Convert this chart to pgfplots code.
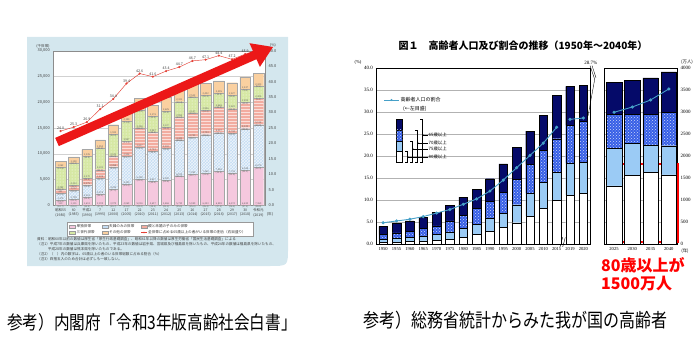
\documentclass[border=0pt]{standalone}
\usepackage{fontspec}
\setmainfont{Noto Sans CJK JP}
\newfontfamily\rserif{Liberation Serif}
\usepackage{graphicx}
\usepackage{pgfplots}
\pgfplotsset{compat=1.18}
\usepackage{pgfplotstable}
\usetikzlibrary{patterns}

\definecolor{panel}{RGB}{212,231,238}
\definecolor{cpink}{RGB}{245,200,222}
\definecolor{cblue}{RGB}{196,220,242}
\definecolor{csalmon}{RGB}{242,172,160}
\definecolor{cgreen}{RGB}{214,232,164}
\definecolor{corange}{RGB}{250,208,160}
\definecolor{cred}{RGB}{228,66,56}
\definecolor{arrowred}{RGB}{236,24,24}
\definecolor{rnavy}{RGB}{5,10,105}
\definecolor{rdot}{RGB}{55,95,230}
\definecolor{rlb}{RGB}{155,203,245}
\definecolor{rline}{RGB}{70,160,200}

\pgfplotstableread{
x dan danp fuu fuup oya oyap san sanp oth othp tot pct
0 910 10.7 1379 16.2 891 10.5 4254 50.1 1062 12.5 8495 24.0
1 1131 12.0 1795 19.1 1012 10.8 4313 45.9 1150 12.2 9400 25.3
2 1613 14.9 2314 21.4 1275 11.8 4270 39.5 1345 12.4 10816 26.9
3 2199 17.3 3075 24.2 1636 12.9 4232 33.3 1553 12.2 12695 31.1
4 3079 19.7 4234 27.1 2268 14.5 4141 26.5 1924 12.3 15647 34.4
5 4069 22.0 5420 29.2 2906 15.7 3947 21.3 2190 11.8 18532 39.4
6 5018 24.2 6190 29.9 3837 18.5 3348 16.2 2313 11.2 20705 42.6
7 4697 24.2 5817 30.0 3743 19.3 2987 15.4 2178 11.2 19422 41.6
8 4868 23.3 6190 29.6 4110 19.6 3137 15.0 2625 12.5 20930 43.4
9 5730 25.6 6974 31.1 4442 19.8 2953 13.2 2321 10.4 22420 44.7
10 5959 25.3 7242 30.7 4743 20.1 3117 13.2 2512 10.7 23572 46.7
11 6243 26.3 7469 31.5 4704 19.8 2906 12.2 2402 10.1 23724 47.1
12 6559 27.1 7526 31.1 5007 20.7 2668 11.0 2405 10.0 24165 48.4
13 6274 26.4 7731 32.5 4734 19.9 2621 11.0 2427 10.2 23787 47.2
14 6830 27.4 8045 32.3 5122 20.5 2493 10.0 2437 9.8 24927 48.9
15 7369 28.8 8270 32.3 5118 20.0 2404 9.4 2423 9.5 25584 49.4
}\hdata

\pgfplotstableread{
x w lb dt nv
0 0.4 0.7 1.1 1.9
1 0.5 0.8 1.3 2.2
2 0.7 0.9 1.4 2.35
3 0.8 1.1 1.7 2.6
4 0.95 1.25 2.0 3.1
5 1.2 1.6 2.5 3.6
6 1.6 2.0 3.0 4.1
7 2.2 2.4 3.6 4.3
8 2.9 3.1 3.8 5.1
9 3.9 3.2 4.7 6.5
10 4.9 4.1 5.8 7.2
11 6.4 5.2 6.6 7.5
12 8.2 5.9 7.3 7.9
13 10.0 6.3 7.7 9.9
14 11.2 7.2 8.7 8.8
15 11.6 7.0 9.3 8.3
}\rdata

\pgfplotstableread{
x pct
0 4.9
1 5.3
2 5.7
3 6.3
4 7.1
5 7.9
6 9.1
7 10.3
8 12.1
9 14.6
10 17.4
11 20.2
12 23.0
13 26.6
}\rlineA

\pgfplotstableread{
x pct
14 28.4
15 28.7
}\rlineB

\pgfplotstableread{
x w lb dt nv pct
0 13.3 8.5 7.8 7.2 30.0
1 15.6 7.4 6.6 7.6 31.2
2 16.3 6.3 7.0 8.2 32.8
3 15.8 6.6 7.6 9.2 35.3
}\fdata

\pgfplotsset{
  segnodes/.style 2 args={
    visualization depends on={\thisrow{#1} \as \segv},
    visualization depends on={\thisrow{#2} \as \segp},
    nodes near coords={\pgfmathprintnumber[fixed,precision=0,1000 sep={,}]{\segv}\\(\pgfmathprintnumber[fixed,fixed zerofill,precision=1]{\segp})},
    every node near coord/.append style={anchor=center, yshift={-0.0025767pt*\segv},
      font=\fontsize{2.4}{2.8}\selectfont, text=black!60, align=center, inner sep=0pt},
  },
  lbar/.style={draw=black!35, line width=0.25pt},
  rbar/.style={draw=black, line width=0.35pt},
}

\begin{document}
\begin{tikzpicture}
\path[use as bounding box] (0,0) rectangle (700pt,356pt);

% ---------- left panel background ----------
\begin{scope}[x=1pt,y=-1pt,yshift=356pt]
\fill[panel] (27,37) -- (288,37) -- (288,248) .. controls (288,266) .. (270,266) -- (27,266) -- cycle;
\end{scope}

% ---------- left chart: households ----------
\begin{axis}[
  at={(53.3pt,150.7pt)}, anchor=south west,
  scale only axis, width=211.7pt, height=154.6pt,
  xmin=-0.55, xmax=15.5, ymin=0, ymax=30000,
  ybar stacked, bar width=10.6pt,
  axis background/.style={fill=white},
  axis line style={draw=black!45, line width=0.3pt},
  ymajorgrids, grid style={draw=black!18, line width=0.3pt},
  ytick={0,5000,10000,15000,20000,25000,30000},
  scaled y ticks=false,
  /pgf/number format/assume math mode=true,
  yticklabel style={font=\fontsize{4}{4}\selectfont, text=black!75, /pgf/number format/1000 sep={,}},
  xtick={0,...,15},
  xticklabels={{昭和55\\(1980)},{60\\(1985)},{平成2\\(1990)},{7\\(1995)},{12\\(2000)},{17\\(2005)},{22\\(2010)},{23\\(2011)},{24\\(2012)},{25\\(2013)},{26\\(2014)},{27\\(2015)},{28\\(2016)},{29\\(2017)},{30\\(2018)},{令和元\\(2019)}},
  xticklabel style={font=\fontsize{3.5}{4.6}\selectfont, align=center, text=black!75},
  major tick length=0pt,
  clip=false,
]
\addplot[lbar, fill=cpink, segnodes={dan}{danp}] table[x=x,y=dan]{\hdata};
\addplot[lbar, fill=cblue, postaction={pattern=crosshatch, pattern color=white!70!cblue}, segnodes={fuu}{fuup}] table[x=x,y=fuu]{\hdata};
\addplot[lbar, fill=csalmon, postaction={pattern=horizontal lines, pattern color=white!60!csalmon}, segnodes={oya}{oyap}] table[x=x,y=oya]{\hdata};
\addplot[lbar, fill=cgreen, postaction={pattern=dots, pattern color=white}, segnodes={san}{sanp}] table[x=x,y=san]{\hdata};
\addplot[lbar, fill=corange, segnodes={oth}{othp}] table[x=x,y=oth]{\hdata};
\addplot[draw=none, fill=none,
  visualization depends on={\thisrow{tot} \as \totv},
  nodes near coords={\pgfmathprintnumber[fixed,precision=0,1000 sep={,}]{\totv}},
  every node near coord/.append style={font=\fontsize{2.8}{3}\selectfont, text=black!70, inner sep=0.6pt}]
  table[x=x,y expr=0]{\hdata};
\end{axis}

\begin{axis}[
  at={(53.3pt,150.7pt)}, anchor=south west,
  scale only axis, width=211.7pt, height=154.6pt,
  xmin=-0.55, xmax=15.5, ymin=0, ymax=50,
  axis y line*=right, axis x line=none,
  axis line style={draw=black!45, line width=0.3pt},
  ytick={0,5,...,50},
  /pgf/number format/assume math mode=true,
  yticklabel style={font=\fontsize{4}{4}\selectfont, text=black!75, /pgf/number format/.cd, fixed, fixed zerofill, precision=1},
  major tick length=0pt,
  clip=false,
]
\addplot[cred, line width=0.45pt, mark=*, mark size=0.85pt,
  point meta=y,
  nodes near coords={\pgfmathprintnumber[fixed,fixed zerofill,precision=1]{\pgfplotspointmeta}},
  every node near coord/.append style={font=\fontsize{3.6}{4}\selectfont, text=black!75, anchor=south, inner sep=1.2pt}]
  table[x=x,y=pct]{\hdata};
\end{axis}

% ---------- right chart: main panel ----------
\begin{axis}[
  at={(376.5pt,111.7pt)}, anchor=south west,
  scale only axis, width=214.2pt, height=176pt,
  xmin=-0.5, xmax=15.55, ymin=0, ymax=40,
  ybar stacked, bar width=8.6pt,
  axis line style={draw=black, line width=0.5pt},
  ymajorgrids, grid style={draw=black!30, line width=0.35pt},
  ytick={0,5,...,40},
  /pgf/number format/assume math mode=true,
  yticklabel style={font=\rserif\fontsize{5}{5}\selectfont, /pgf/number format/.cd, fixed, fixed zerofill, precision=1},
  xtick={0,...,15},
  xticklabels={1950,1955,1960,1965,1970,1975,1980,1985,1990,1995,2000,2005,2010,2015,2019,2020},
  xticklabel style={font=\rserif\fontsize{4.6}{5}\selectfont},
  major tick length=0pt,
  clip=false,
]
\addplot[rbar, fill=white] table[x=x,y=w]{\rdata};
\addplot[rbar, fill=rlb] table[x=x,y=lb]{\rdata};
\addplot[rbar, fill=rdot, postaction={pattern=crosshatch dots, pattern color=white!75!rdot}] table[x=x,y=dt]{\rdata};
\addplot[rbar, fill=rnavy] table[x=x,y=nv]{\rdata};
% axis break marks
\draw[black, line width=0.4pt] (axis cs:13.25,-0.6) -- (axis cs:13.45,1.6);
\draw[black, line width=0.4pt] (axis cs:13.45,-0.6) -- (axis cs:13.65,1.6);
% 28.7% label and leader
\node[font=\rserif\fontsize{5}{5}\selectfont, anchor=south, inner sep=0.5pt] at (axis cs:15.55,40.6) {28.7\%};
\draw[black, line width=0.35pt] (axis cs:15.5,40.6) -- (axis cs:15.85,37.5) -- (axis cs:15.35,29.2);
\draw[black, line width=0.35pt] (axis cs:15.65,40.6) -- (axis cs:15.95,37.8);
\end{axis}

\begin{axis}[
  at={(376.5pt,111.7pt)}, anchor=south west,
  scale only axis, width=214.2pt, height=176pt,
  xmin=-0.5, xmax=15.55, ymin=0, ymax=40,
  hide axis,
]
\addplot[rline, line width=0.9pt, mark=*, mark size=1.1pt] table[x=x,y=pct]{\rlineA};
\addplot[rline, line width=0.9pt, mark=*, mark size=1.1pt] table[x=x,y=pct]{\rlineB};
\end{axis}

% ---------- right chart: projection panel ----------
\begin{axis}[
  at={(604pt,111.7pt)}, anchor=south west,
  scale only axis, width=73pt, height=176pt,
  xmin=-0.55, xmax=3.45, ymin=0, ymax=40,
  ybar stacked, bar width=15.5pt,
  axis line style={draw=black, line width=0.5pt},
  ymajorgrids, grid style={draw=black!30, line width=0.35pt},
  ytick={0,5,...,40},
  yticklabels={0,500,1000,1500,2000,2500,3000,3500,4000},
  yticklabel pos=right,
  yticklabel style={font=\rserif\fontsize{5}{5}\selectfont, anchor=west},
  xtick={0,...,3},
  xticklabels={2025,2030,2035,2040},
  xticklabel style={font=\rserif\fontsize{4.6}{5}\selectfont},
  major tick length=0pt,
  clip=false,
]
\addplot[rbar, fill=white] table[x=x,y=w]{\fdata};
\addplot[rbar, fill=rlb] table[x=x,y=lb]{\fdata};
\addplot[rbar, fill=rdot, postaction={pattern=crosshatch dots, pattern color=white!75!rdot}] table[x=x,y=dt]{\fdata};
\addplot[rbar, fill=rnavy] table[x=x,y=nv]{\fdata};
\draw[red, line width=2.2pt] (axis cs:0.38,0.45) rectangle (axis cs:3.49,18.25);
\end{axis}

\begin{axis}[
  at={(604pt,111.7pt)}, anchor=south west,
  scale only axis, width=73pt, height=176pt,
  xmin=-0.55, xmax=3.45, ymin=0, ymax=40,
  hide axis,
]
\addplot[rline, line width=0.9pt, mark=*, mark size=1.1pt] table[x=x,y=pct]{\fdata};
\end{axis}

% ---------- annotations (pixel coordinates, y downwards) ----------
\begin{scope}[x=1pt,y=-1pt,yshift=356pt]
% left chart labels
\node[font=\fontsize{3.6}{4}\selectfont, text=black!75, inner sep=0] at (43,46) {(千世帯)};
\node[font=\fontsize{3.6}{4}\selectfont, text=black!75, inner sep=0] at (273,45) {(\%)};
\node[font=\fontsize{3.6}{4}\selectfont, text=black!75, inner sep=0] at (270,214) {(年)};
% left legend
\draw[fill=white, draw=black!40, line width=0.3pt] (67,222.5) rectangle (253,236);
\begin{scope}[font=\fontsize{3.6}{4}\selectfont, text=black!80]
\filldraw[fill=cpink, draw=black!40, line width=0.2pt] (69.5,225) rectangle (75.5,228);
\node[anchor=west, inner sep=0] at (76.5,226.5) {単独世帯};
\filldraw[fill=cblue, draw=black!40, line width=0.2pt] (102,225) rectangle (108,228);
\node[anchor=west, inner sep=0] at (109,226.5) {夫婦のみの世帯};
\filldraw[fill=csalmon, draw=black!40, line width=0.2pt] (141,225) rectangle (147,228);
\node[anchor=west, inner sep=0] at (148,226.5) {親と未婚の子のみの世帯};
\filldraw[fill=cgreen, draw=black!40, line width=0.2pt] (69.5,231) rectangle (75.5,234);
\node[anchor=west, inner sep=0] at (76.5,232.5) {三世代世帯};
\filldraw[fill=corange, draw=black!40, line width=0.2pt] (102,231) rectangle (108,234);
\node[anchor=west, inner sep=0] at (109,232.5) {その他の世帯};
\draw[cred, line width=0.5pt] (141,232.5) -- (147,232.5);
\fill[cred] (144,232.5) circle (0.8);
\node[anchor=west, inner sep=0] at (148,232.5) {全世帯に占める65歳以上の者がいる世帯の割合（右目盛り）};
\end{scope}
% notes
\begin{scope}[font=\fontsize{3.6}{4}\selectfont, text=black!75]
\node[anchor=west, inner sep=0] at (37,239.5) {資料：昭和60年以前の数値は厚生省「厚生行政基礎調査」、昭和61年以降の数値は厚生労働省「国民生活基礎調査」による};
\node[anchor=west, inner sep=0] at (37,244.5) {（注1）平成7年の数値は兵庫県を除いたもの、平成23年の数値は岩手県、宮城県及び福島県を除いたもの、平成24年の数値は福島県を除いたもの、};
\node[anchor=west, inner sep=0] at (37,249.5) {　　　平成28年の数値は熊本県を除いたものである。};
\node[anchor=west, inner sep=0] at (37,254.5) {（注2）（　）内の数字は、65歳以上の者のいる世帯総数に占める割合（\%）};
\node[anchor=west, inner sep=0] at (37,259.5) {（注3）四捨五入のため合計は必ずしも一致しない。};
\end{scope}
% big red arrow
\fill[arrowred] (58.8,146.1) -- (55.2,137.9) -- (252.9,50.9) -- (249.5,43.2) -- (273,47) -- (259.9,66.9) -- (256.5,59.2) -- cycle;

% right chart title and labels
\node[font=\bfseries\fontsize{10}{10}\selectfont, inner sep=0] at (523,45.7) {図１　高齢者人口及び割合の推移（1950年～2040年）};
\node[font=\rserif\fontsize{4.6}{5}\selectfont, inner sep=0] at (358,62) {(\%)};
\node[font=\fontsize{4.4}{5}\selectfont, inner sep=0] at (687,62) {(万人)};
\node[font=\fontsize{4.4}{5}\selectfont, inner sep=0] at (685,251) {(年)};
% right legend
\draw[rline, line width=0.9pt] (384,100) -- (399,100);
\fill[rline] (391.5,100) circle (1.1);
\node[anchor=west, font=\fontsize{5}{5}\selectfont, inner sep=0] at (400.5,100) {高齢者人口の割合};
\node[anchor=west, font=\fontsize{5}{5}\selectfont, inner sep=0] at (403,108.5) {(←左目盛)};
% mini legend bar
\filldraw[fill=rnavy, draw=black, line width=0.35pt] (396,119.3) rectangle (402.5,130);
\filldraw[fill=rdot, draw=black, line width=0.35pt] (396,130) rectangle (402.5,141);
\fill[pattern=crosshatch dots, pattern color=white!75!rdot] (396,130) rectangle (402.5,141);
\filldraw[fill=rlb, draw=black, line width=0.35pt] (396,141) rectangle (402.5,151.5);
\filldraw[fill=white, draw=black, line width=0.35pt] (396,151.5) rectangle (402.5,162);
\begin{scope}[line width=0.35pt]
\draw (405,151.5) -- (407,151.5) -- (407,162) -- (405,162);
\draw (410,141) -- (412,141) -- (412,162) -- (410,162);
\draw (415,130) -- (417,130) -- (417,162) -- (415,162);
\draw (420,119.3) -- (422,119.3) -- (422,162) -- (420,162);
\draw (407,157) -- (428,157); \fill (408,157) circle (0.6);
\draw (412,149) -- (428,149); \fill (413,149) circle (0.6);
\draw (417,143) -- (428,143); \fill (418,143) circle (0.6);
\draw (422,135) -- (428,135); \fill (423,135) circle (0.6);
\end{scope}
\begin{scope}[font=\fontsize{4.4}{5}\selectfont]
\node[anchor=west, inner sep=0] at (428.5,135) {65歳以上};
\node[anchor=west, inner sep=0] at (428.5,143) {70歳以上};
\node[anchor=west, inner sep=0] at (428.5,149) {75歳以上};
\node[anchor=west, inner sep=0] at (428.5,157) {80歳以上};
\end{scope}
% red annotation
\node[anchor=west, text=red, font=\bfseries\fontsize{16}{16}\selectfont, inner sep=0] at (601,265) {80歳以上が};
\node[anchor=west, text=red, font=\bfseries\fontsize{16}{16}\selectfont, inner sep=0] at (601,284) {1500万人};
% captions
\node[anchor=west, inner sep=0] at (7,322) {\fontsize{15.6}{16}\selectfont\scalebox{1}[1.2]{参考）内閣府「令和3年版高齢社会白書」}};
\node[anchor=west, inner sep=0] at (363,320) {\fontsize{16}{16}\selectfont\scalebox{1}[1.2]{参考）総務省統計からみた我が国の高齢者}};
\end{scope}
\end{tikzpicture}
\end{document}
